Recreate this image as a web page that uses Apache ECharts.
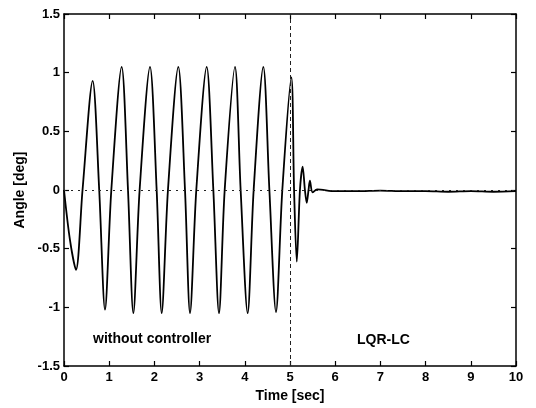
<!DOCTYPE html>
<html>
<head>
<meta charset="utf-8">
<script src="https://cdn.jsdelivr.net/npm/echarts@6/dist/echarts.min.js"></script>
<style>
html,body{margin:0;padding:0;background:#fff;}
#c{width:536px;height:408px;}
</style>
</head>
<body>
<div id="c"></div>
<script>
// Time [sec] values
var timeSec = [0, 0.13, 0.265, 0.41, 0.634, 0.779, 0.907, 1.047, 1.276, 1.416, 1.534, 1.673, 1.903, 2.050, 2.161, 2.300, 2.529, 2.677, 2.788, 2.927, 3.157, 3.304, 3.429, 3.555, 3.783, 3.908, 4.063, 4.196, 4.410, 4.544, 4.690, 4.83, 5.03, 5.09, 5.15, 5.22, 5.28, 5.33, 5.37, 5.41, 5.44, 5.50, 5.6, 6.0, 6.5, 7.0, 7.5, 8.0, 8.5, 9.0, 9.5, 10.0];
// Angle [deg] values
var angleDeg = [0, -0.42, -0.68, 0, 0.93, 0, -1.02, 0, 1.05, 0, -1.05, 0, 1.05, 0, -1.05, 0, 1.05, 0, -1.05, 0, 1.05, 0, -1.05, 0, 1.05, 0, -1.05, 0, 1.05, 0, -1.04, 0, 0.96, 0, -0.61, 0, 0.20, 0, -0.11, 0, 0.08, -0.02, 0.005, -0.01, -0.01, -0.005, -0.01, -0.01, -0.015, -0.01, -0.015, -0.01];
var switchTime = [5];
var annotations = ["without controller", "LQR-LC"];
var xTitle = "Time [sec]";
var yTitle = "Angle [deg]";

var pts = timeSec.map(function(t, i){ return [t, angleDeg[i]]; });
var font = "'Liberation Sans', Arial, sans-serif";

var chart = echarts.init(document.getElementById('c'), null, {renderer: 'canvas'});
var axisLine = {show: true, onZero: false, lineStyle: {color: '#000', width: 1.5}};
var tick = {show: true, inside: true, length: 5, lineStyle: {color: '#000', width: 1.2}};
chart.setOption({
  backgroundColor: '#fff',
  animation: false,
  grid: {left: 64, right: 20, top: 14, bottom: 39},
  xAxis: [{
    type: 'value', min: 0, max: 10, interval: 1,
    name: xTitle, nameLocation: 'middle', nameGap: 23,
    nameTextStyle: {fontFamily: font, fontWeight: 'bold', fontSize: 14, color: '#000'},
    axisLine: axisLine, axisTick: tick, splitLine: {show: false},
    axisLabel: {fontFamily: font, fontWeight: 'bold', fontSize: 13, color: '#000', margin: 5}
  }, {
    type: 'value', min: 0, max: 10, interval: 1, position: 'top',
    axisLine: axisLine, axisTick: tick, splitLine: {show: false}, axisLabel: {show: false}
  }],
  yAxis: [{
    type: 'value', min: -1.5, max: 1.5, interval: 0.5,
    name: yTitle, nameLocation: 'middle', nameGap: 37, nameRotate: 90,
    nameTextStyle: {fontFamily: font, fontWeight: 'bold', fontSize: 14, color: '#000'},
    axisLine: axisLine, axisTick: tick, splitLine: {show: false},
    axisLabel: {fontFamily: font, fontWeight: 'bold', fontSize: 13, color: '#000', margin: 4}
  }, {
    type: 'value', min: -1.5, max: 1.5, interval: 0.5, position: 'right',
    axisLine: axisLine, axisTick: tick, splitLine: {show: false}, axisLabel: {show: false}
  }],
  series: [{
    type: 'line', data: pts, showSymbol: false, smooth: 0.3,
    lineStyle: {color: '#000', width: 1.8},
    z: 3,
    markLine: {
      silent: true, symbol: 'none', label: {show: false},
      data: [
        {xAxis: switchTime[0], lineStyle: {type: [4, 3], color: '#222', width: 1}},
        {yAxis: 0, lineStyle: {type: [2, 5], color: '#222', width: 1}}
      ]
    }
  }],
  graphic: [
    {type: 'text', left: 93, top: 332, style: {text: annotations[0], font: 'bold 14px ' + font, fill: '#000'}},
    {type: 'text', left: 357, top: 333, style: {text: annotations[1], font: 'bold 14px ' + font, fill: '#000'}}
  ]
});
</script>
</body>
</html>
